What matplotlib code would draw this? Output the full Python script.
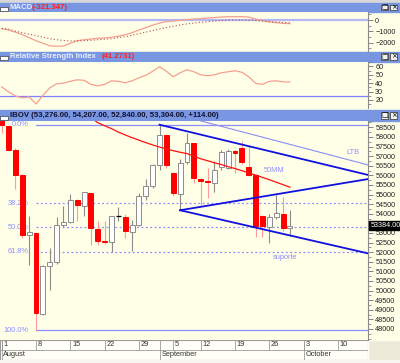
import matplotlib
matplotlib.use("Agg")
import matplotlib.pyplot as plt
from matplotlib.patches import Rectangle
import numpy as np

plt.rcParams['font.family'] = ['Liberation Sans', 'DejaVu Sans']

# ---- data (IBOV daily, 1 Aug - 29 Sep 2011, trading-day index) ----
opens  = [59000, 58550, 57330, 56000, 52880, 52995, 48800, 51260, 51480, 53430,
          53550, 54730, 54385, 55080, 53200, 52560, 52510, 53865, 53845, 53030,
          53400, 54905, 55430, 56520, 58115, 56120, 55030, 56680, 57670, 55800,
          55720, 55600, 56450, 56400, 57250, 57400, 56420, 56030, 53900, 53330,
          53810, 53985, 53276]
highs  = [59100, 58635, 57400, 56050, 53900, 53050, 51350, 52210, 53810, 54400,
          55030, 54780, 55150, 55100, 53600, 53600, 53900, 54330, 53985, 53690,
          55080, 55820, 56600, 58635, 58150, 56150, 56850, 58190, 57700, 55850,
          56380, 56730, 57300, 57350, 57300, 57800, 57580, 56050, 53950, 54000,
          55000, 54850, 54207]
lows   = [58200, 57250, 55300, 52735, 51340, 47943, 48700, 50040, 51400, 53300,
          53500, 53640, 53900, 52350, 52390, 52400, 51990, 53600, 52735, 52070,
          53350, 54700, 55350, 56300, 56380, 54900, 54180, 56600, 55580, 54440,
          54820, 55130, 56300, 56350, 56120, 56600, 55950, 52800, 52800, 52490,
          53700, 53100, 52840]
closes = [58600, 57330, 56030, 52907, 53030, 48830, 51260, 51480, 53400, 53570,
          54730, 54440, 55130, 53256, 52560, 52520, 53865, 53865, 53085, 53400,
          54905, 55430, 56520, 58115, 56550, 55080, 56640, 57670, 55845, 55720,
          55650, 56300, 57230, 57250, 57180, 56700, 56020, 53380, 53340, 53845,
          54020, 53250, 53384]

ma50_start = 13
ma50 = [59000, 58740, 58580, 58430, 58250, 58100, 57960, 57830, 57700, 57580,
        57470, 57370, 57280, 57200, 57130, 57000, 56860, 56760, 56650, 56560,
        56450, 56350, 56240, 56130, 56010, 55890, 55770, 55640, 55510, 55380]

macd = [-760, -890, -1070, -1290, -1560, -1830, -2050, -2280, -2320, -2300,
        -2050, -1830, -1740, -1680, -1610, -1580, -1520, -1430, -1290, -1120,
        -890, -670, -450, -270, -130, -90, -20, 45, 90, 130,
        180, 220, 270, 300, 300, 300, 270, 90, -60, -160,
        -230, -290, -321]
signal = [-740, -800, -980, -1120, -1250, -1380, -1520, -1650, -1740, -1810,
          -1850, -1850, -1830, -1790, -1740, -1700, -1650, -1560, -1470, -1340,
          -1210, -1070, -940, -800, -670, -540, -430, -340, -270, -200,
          -140, -90, -50, -20, 0, 0, -20, -45, -90, -130,
          -180, -205, -240]
rsi = [35.6, 29.6, 24.8, 22.4, 23.6, 15.2, 25.4, 34.4, 39.2, 40.1,
       42.2, 44.0, 43.4, 38.6, 36.8, 38.6, 42.8, 42.2, 40.4, 42.8,
       46.4, 49.4, 54.2, 59.6, 54.2, 47.6, 52.4, 56.0, 53.6, 50.0,
       48.8, 50.0, 52.4, 53.6, 54.8, 53.0, 47.6, 39.8, 38.6, 42.2,
       42.8, 41.6, 41.27]

fib_high, fib_low = 58635, 47943
fib_pcts = [0.0, 38.2, 50.0, 61.8, 100.0]
fib_start = 5

# trend lines: (index, price) end points
ltb_idx, ltb_price = [28.0, 53.42], [58926, 56537]
chan_idx, chan_price = [23.0, 53.42], [58635, 56016]
rise_idx, rise_price = [26.0, 53.42], [54180, 55807]
sup_idx, sup_price = [26.0, 53.42], [54180, 51930]

week_labels = ["1", "8", "15", "22", "29", "5", "12", "19", "26", "3", "10"]
week_idx = [0, 5, 10, 15, 20, 25, 29, 34, 39, 44, 49]
month_labels = ["August", "September", "October"]
month_idx = [0, 23, 44]

# ---- layout helpers (pixel based) ----
W, H = 400, 363
XR = 368.3
def rect(x0, y0, x1, y1):
    return [x0 / W, 1 - y1 / H, (x1 - x0) / W, (y1 - y0) / H]

BG = '#ffffe8'
BAR = '#7896e1'
FIBC = '#8c8cff'
XLIM = (-0.248, 53.42)
FS = 5.2

fig = plt.figure(figsize=(4, 3.63), dpi=100, facecolor='#ece9d8')

def band(y0, y1, color, x0=0, x1=W):
    fig.patches.append(Rectangle((x0 / W, 1 - y1 / H), (x1 - x0) / W, (y1 - y0) / H,
                                 transform=fig.transFigure, color=color, zorder=-5))

# label areas on the right
band(12, 51.7, BG); band(61.7, 108.5, BG); band(121, 340, BG)
band(340, 360, '#fffff8', 0, XR)
band(360, 363, '#f6f5ef')
band(0, 2.7, '#d8d8d8')

def title_bar(y0, y1, parts):
    band(y0, y1, BAR)
    yc = 1 - ((y0 + y1) / 2) / H
    fig.patches.append(Rectangle((0, 1 - (y1 - 1.5) / H), 8.3 / W, 4 / H,
                                 transform=fig.transFigure, facecolor='white',
                                 edgecolor='#404040', lw=0.5))
    for x, s, c in parts:
        fig.text(x / W, yc, s, color=c, fontsize=5.6, fontweight='bold',
                 va='center', ha='left')
    for bx, sym in [(381, '□'), (390, '×')]:
        fig.patches.append(Rectangle((bx / W, 1 - (y1 - 1.8) / H), 7 / W, (y1 - y0 - 3.6) / H,
                                     transform=fig.transFigure, facecolor='#f0f0f0',
                                     edgecolor='#303030', lw=0.5))
        fig.text((bx + 3.5) / W, yc, sym, fontsize=5, ha='center', va='center',
                 family='DejaVu Sans', color='black')

title_bar(2.7, 12, [(10, 'MACD', '#e8ecff'), (31.5, '(-321.347)', '#ff2020')])
title_bar(51.7, 61.7, [(10, 'Relative Strength Index', '#e8ecff'), (101.5, '(41.2731)', '#ff2020')])
title_bar(110, 121, [(10, 'IBOV (53,276.00, 54,207.00, 52,840.00, 53,304.00, +114.00)', '#101030')])

def style(a):
    a.set_facecolor(BG)
    a.set_xlim(*XLIM)
    for s in ['left', 'top', 'bottom']:
        a.spines[s].set_visible(False)
    a.spines['right'].set_color('#8a8a8a')
    a.spines['right'].set_linewidth(0.8)
    a.yaxis.tick_right()
    a.set_xticks([])
    a.tick_params(axis='y', which='major', length=3.5, width=0.6, colors='#707070',
                  labelcolor='#222222', labelsize=FS, pad=1.5)
    a.tick_params(axis='y', which='minor', length=2, width=0.5, colors='#707070')

idx = np.arange(len(closes))

# ---- MACD ----
axm = fig.add_axes(rect(0, 12, XR, 51))
style(axm)
axm.set_ylim(-2740, 714)
axm.axhline(0, color='#b4b8f4', lw=1.6, zorder=1)
axm.plot(idx, macd, color='#f4a090', lw=0.9, zorder=3)
axm.plot(idx, signal, color='#b05050', lw=0.8, ls=(0, (1, 2)), zorder=3)
axm.set_yticks([0, -1000, -2000])
axm.set_yticks([500, -500, -1500, -2500], minor=True)

# ---- RSI ----
axr = fig.add_axes(rect(0, 61.7, XR, 108))
style(axr)
axr.set_ylim(10.4, 65.6)
axr.axhline(25, color='#8080ff', lw=0.9, zorder=1)
axr.plot(idx, rsi, color='#f4a090', lw=0.9, zorder=3)
axr.set_yticks([20, 30, 40, 50, 60])
axr.set_yticks([15, 25, 35, 45, 55, 65], minor=True)

# ---- price ----
ax = fig.add_axes(rect(0, 121, XR, 340))
style(ax)
ax.set_ylim(47423, 58828)
ax.set_yticks(np.arange(48000, 58501, 500))
ax.set_yticks(np.arange(47500, 58801, 250), minor=True)
# the last-price box covers the 53500 label
ax.yaxis.set_major_formatter(plt.FuncFormatter(
    lambda v, p: "" if abs(v - closes[-1]) < 300 else f"{int(v)}"))

# fibonacci retracement
for pct in fib_pcts:
    lvl = fib_high - (fib_high - fib_low) * pct / 100
    ls = '-' if pct in (0.0, 100.0) else (0, (1.5, 2))
    ax.plot([fib_start, XLIM[1]], [lvl, lvl], color=FIBC, lw=0.9, ls=ls, zorder=1)
    ax.text(3.9, lvl, f"{pct:.1f}%", color=FIBC, fontsize=5.3, ha='right',
            va='center', zorder=1)

# candles
for i, (o, h, l, c) in enumerate(zip(opens, highs, lows, closes)):
    if c > o:
        face, edge, wick = 'white', '#8c8c8c', '#8c8c8c'
    elif c < o:
        face, edge, wick = '#ff0000', '#ff0000', '#ff9a9a'
    else:
        face, edge, wick = 'black', 'black', '#8c8c8c'
    ax.vlines(i, l, h, color=wick, lw=0.8, zorder=2)
    if c == o:
        ax.hlines(c, i - 0.38, i + 0.38, color='black', lw=0.9, zorder=3)
    else:
        ax.bar(i, abs(c - o), bottom=min(o, c), width=0.72, color=face,
               edgecolor=edge, lw=0.7, zorder=3)

# 50-period moving average
ax.plot(np.arange(ma50_start, ma50_start + len(ma50)), ma50, color='#ff1010',
        lw=0.9, zorder=4)

# trend lines
ax.plot(ltb_idx, ltb_price, color='#8c8cf4', lw=0.8, zorder=4)
ax.plot(chan_idx, chan_price, color='#1010e0', lw=1.3, zorder=4)
ax.plot(rise_idx, rise_price, color='#1010e0', lw=1.3, zorder=4)
ax.plot(sup_idx, sup_price, color='#1010e0', lw=1.3, zorder=4)

ax.text(39.7, 56276, '50MM', color=FIBC, fontsize=5.3, ha='center', va='center')
ax.text(51.2, 57177, 'LTB', color=FIBC, fontsize=5.3, ha='center', va='center')
ax.text(41.3, 51740, 'suporte', color=FIBC, fontsize=5.3, ha='center', va='center')

ax.annotate(f"{closes[-1]:.2f}", xy=(1.0, closes[-1]), xycoords=('axes fraction', 'data'),
            xytext=(1.5, 0), textcoords='offset points', fontsize=5.2, color='white',
            va='center', ha='left', annotation_clip=False, zorder=10,
            bbox=dict(boxstyle='square,pad=0.15', fc='black', ec='black'))

# ---- date axis ----
axd = fig.add_axes(rect(0, 340, XR, 360))
axd.set_xlim(*XLIM)
axd.set_ylim(0, 2)
axd.axis('off')
gc = '#9a9a9a'
axd.plot(XLIM, [2, 2], color=gc, lw=0.8)
axd.plot(XLIM, [1, 1], color=gc, lw=0.6)
axd.plot(XLIM, [0, 0], color=gc, lw=0.8)
axd.plot([XLIM[1], XLIM[1]], [0, 2], color=gc, lw=0.8)
axd.plot([XLIM[0], XLIM[0]], [0, 2], color=gc, lw=0.8)
for wi, wl in zip(week_idx, week_labels):
    axd.plot([wi, wi], [1, 2], color=gc, lw=0.6)
    axd.text(wi + 0.25, 1.5, wl, fontsize=5.3, va='center', ha='left', color='#303030')
for mi, ml in zip(month_idx, month_labels):
    axd.plot([mi, mi], [0, 2], color=gc, lw=0.6)
    axd.text(mi + 0.25, 0.5, ml, fontsize=5.3, va='center', ha='left', color='#303030')

fig.savefig('out.png', dpi=100, facecolor=fig.get_facecolor())
